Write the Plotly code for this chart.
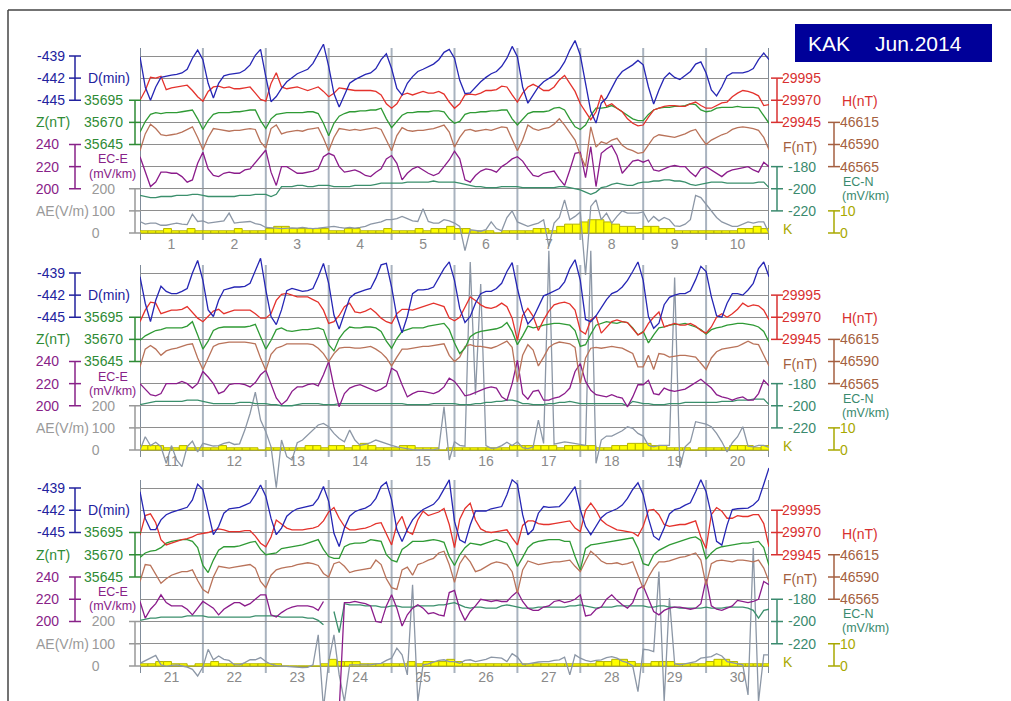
import numpy as np
import plotly.graph_objects as go

N = None

# ---- data: 2-hourly samples from 1 Jun 2014 00UT to 1 Jul 00UT (361 points) ----
D_min = [
 -439.1,-443.2,-445.0,-443.2,-441.9,-441.7,-441.6,-441.5,-441.3,-440.8,-439.3,-438.2,
 -439.5,-442.7,-444.7,-442.7,-441.7,-441.5,-441.4,-441.3,-440.9,-440.2,-438.9,-438.1,
 -441.8,-445.2,-444.5,-443.4,-442.5,-441.9,-441.4,-441.1,-440.8,-440.0,-438.6,-437.4,
 -440.4,-444.1,-445.9,-444.3,-442.7,-442.2,-441.8,-441.5,-441.3,-440.7,-439.5,-438.7,
 -440.7,-443.4,-444.3,-442.7,-441.8,-441.1,-440.8,-440.5,-440.1,-439.5,-438.5,-438.1,
 -439.3,-442.3,-444.1,-444.0,-443.2,-442.5,-441.9,-441.4,-441.1,-440.4,-439.3,-437.7,
 -439.1,-443.2,-445.4,-444.3,-443.2,-442.5,-442.0,-441.6,-440.9,-439.8,-438.2,-436.9,
 -438.9,-442.7,-446.5,-448.1,-445.4,-444.7,-443.4,-442.0,-441.1,-440.7,-440.2,-439.6,
 -440.2,-443.2,-445.5,-443.6,-442.0,-441.3,-441.9,-442.2,-441.7,-441.1,-440.1,-439.8,
 -441.3,-443.6,-444.4,-443.2,-441.7,-441.3,-441.3,-441.3,-441.1,-440.7,-439.5,-438.6,
 -439.5,-443.1,-445.6,-442.7,-440.8,-441.5,-441.8,-441.8,-441.5,-441.1,-439.0,-437.3,
 -440.0,-444.0,-444.9,-442.7,-441.3,-441.1,-440.9,-440.9,-440.8,-440.4,-438.8,-437.0,
 -441.3,-444.9,-446.0,-444.0,-441.4,-441.1,-441.3,-441.5,-441.4,-441.1,-439.5,-437.7,
 -440.4,-444.7,-446.6,-444.5,-442.4,-441.8,-441.5,-441.3,-441.1,-439.7,-437.9,-437.7,
 -440.9,-444.9,-447.1,-444.9,-441.8,-441.3,-441.3,-441.2,-440.9,-439.7,-438.4,-437.5,
 -440.0,-443.8,-445.7,-444.9,-443.1,-441.8,-441.5,-441.5,-441.1,-440.4,-438.8,-437.6,
 -441.1,-444.0,-445.9,-445.1,-443.6,-442.1,-441.8,-441.4,-441.1,-440.2,-438.4,-437.2,
 -440.0,-445.3,-445.6,-444.8,-443.6,-442.6,-441.8,-441.5,-440.9,-440.0,-438.8,-437.5,
 -440.0,-444.9,-446.5,-445.8,-443.3,-442.3,-442.0,-441.8,-441.8,-441.4,-439.9,-438.1,
 -438.8,-442.2,-444.8,-445.0,-443.1,-441.8,-441.8,-442.0,-441.3,-440.4,-438.4,-437.5,
 -439.5,-443.1,-444.6,-444.6,-443.3,-442.6,-442.3,-442.1,-441.8,-441.6,-440.6,-438.5,
 -439.2,-442.2,-445.3,-444.2,-442.4,-441.8,-441.7,-441.6,-441.3,-441.0,-439.9,-438.6,
 -440.1,-443.1,-445.3,-444.4,-442.8,-442.2,-441.8,-441.6,-441.5,-441.3,-440.4,-438.8,
 -440.8,-445.1,-446.9,-444.4,-442.8,-442.2,-441.9,-441.7,-441.3,-440.4,-438.8,-438.2,
 -440.6,-444.6,-446.2,-444.6,-443.3,-442.5,-441.9,-441.6,-441.2,-440.4,-439.2,-437.9,
 -443.5,-446.0,-446.4,-444.0,-442.1,-442.1,-442.1,-441.8,-441.6,-441.5,-439.9,-437.9,
 -438.5,-442.6,-445.3,-444.6,-442.4,-441.5,-441.6,-441.6,-441.5,-440.8,-439.8,-438.8,
 -441.9,-444.2,-445.3,-444.2,-443.0,-442.4,-442.1,-441.8,-441.3,-440.4,-439.2,-438.3,
 -439.9,-443.1,-445.5,-446.0,-444.4,-442.5,-441.9,-441.7,-441.3,-441.0,-439.5,-437.9,
 -439.5,-442.6,-446.2,-446.7,-444.0,-441.9,-441.8,-441.7,-441.7,-441.3,-440.6,-438.5,
 -436.3]

H_nT = [
 29970,29981,29996,29995,29997,29982,29984,29985,29986,29987,29981,29974,
 29969,29980,29985,29986,29984,29985,29983,29983,29984,29985,29978,29971,
 29969,29989,30001,29985,29983,29984,29985,29983,29981,29983,29985,29980,
 29974,29978,29984,29983,29982,29981,29981,29981,29981,29980,29976,29966,
 29961,29966,29976,29978,29976,29978,29980,29978,29978,29980,29977,29968,
 29961,29966,29976,29977,29976,29978,29981,29981,29982,29986,29985,29976,
 29968,29978,29985,29988,29985,29981,29981,29985,29993,29998,29989,29980,
 29966,29957,29948,29957,29976,29963,29966,29961,29957,29949,29944,29941,
 29942,29951,29959,29961,29963,29964,29964,29963,29963,29966,29968,29964,
 29961,29961,29964,29967,29968,29974,29978,29981,29980,29978,29975,29964,
 29965,29978,29987,29986,29974,29976,29978,29978,29979,29982,29976,29969,
 29965,29971,29977,29979,29974,29976,29978,29978,29978,29978,29974,29969,
 29969,29974,29989,29996,29997,29995,29993,29993,29993,29990,29987,29978,
 29963,29965,29972,29982,29986,29976,29975,29977,29980,29975,29969,29965,
 29963,29974,29979,29979,29978,29980,29982,29984,29986,29984,29982,29969,
 29966,29970,29982,29993,29989,29984,29981,29980,29982,29986,29982,29969,
 29944,29972,29980,29971,29955,29967,29977,29984,29986,29987,29985,29978,
 29955,29951,29967,29971,29952,29959,29965,29967,29965,29964,29957,29950,
 29953,29963,29970,29976,29959,29961,29963,29961,29961,29963,29960,29955,
 29952,29959,29970,29974,29970,29974,29979,29986,29982,29984,29983,29978,
 29967,29989,29991,29981,29962,29956,29958,29960,29962,29963,29965,29968,
 29969,29970,29972,29974,29973,29971,29971,29971,29972,29972,29966,29958,
 29954,29965,29984,29980,29975,29973,29973,29973,29974,29975,29977,29983,
 29993,29998,29986,29977,29973,29973,29974,29975,29977,29980,29981,29969,
 29956,29979,29988,29971,29968,29984,29994,29989,29991,29993,29997,29979,
 29953,29985,29997,30003,29984,29974,29971,29970,29971,29972,29973,29964,
 29956,29978,29983,29983,29980,29979,29979,29980,29981,29982,29983,29975,
 29971,29995,30003,29995,29984,29979,29976,29973,29972,29971,29970,29966,
 29977,29995,29996,29990,29979,29977,29978,29979,29979,29981,29983,29965,
 29952,29990,29998,29994,29986,29986,29989,29988,29988,29990,29990,29980,
 29954]

Z_nT = [
 35659,35671,35679,35681,35680,35681,35681,35681,35682,35683,35684,35674,
 35662,35672,35679,35681,35681,35681,35682,35682,35683,35684,35684,35672,
 35663,35674,35679,35680,35681,35681,35681,35681,35682,35682,35680,35669,
 35655,35669,35677,35680,35682,35682,35683,35683,35684,35684,35686,35674,
 35664,35671,35678,35681,35681,35682,35682,35682,35683,35683,35682,35674,
 35669,35671,35679,35681,35681,35682,35682,35683,35683,35684,35684,35674,
 35667,35674,35680,35682,35682,35682,35683,35686,35687,35684,35674,35665,
 35662,35667,35678,35686,35686,35687,35689,35686,35682,35678,35674,35672,
 35672,35679,35684,35686,35687,35687,35688,35688,35689,35691,35690,35684,
 35682,35683,35686,35687,35687,35687,35688,35687,35687,35687,35686,35678,
 35669,35674,35677,35680,35681,35683,35683,35683,35683,35685,35690,35675,
 35659,35668,35680,35683,35684,35684,35684,35684,35684,35685,35687,35673,
 35659,35669,35681,35683,35680,35679,35680,35681,35681,35682,35683,35681,
 35664,35657,35671,35679,35684,35683,35683,35684,35684,35683,35679,35668,
 35660,35671,35679,35681,35683,35683,35683,35685,35686,35687,35688,35681,
 35666,35654,35660,35673,35677,35679,35680,35681,35682,35684,35689,35679,
 35664,35674,35685,35683,35684,35686,35687,35688,35688,35687,35686,35680,
 35662,35664,35676,35686,35688,35690,35689,35688,35690,35689,35683,35675,
 35679,35666,35675,35683,35684,35686,35687,35687,35688,35686,35684,35681,
 35676,35681,35683,35684,35686,35687,35688,35688,35687,35686,35684,35679,
 35667,35672,35674,35675,35678,35683,35685,35686,35687,35687,35685,35678,
 35658,35650,35664,35675,35679,35679,35679,35680,35682,35684,35685,35676,
 35670,35671,35672,35677,35678,35679,35680,35681,35683,35685,35687,35676,
 35668,35666,35666,35679,35682,35683,35683,35684,35687,35686,35685,35670,
 35664,35662,35676,35680,35685,35685,35685,35686,35687,35686,35684,35668,
 35658,35670,35678,35683,35682,35681,35683,35685,35687,35685,35683,35672,
 35657,35667,35678,35683,35685,35686,35687,35687,35687,35685,35685,35668,
 35653,35677,35681,35682,35683,35684,35685,35686,35687,35688,35689,35677,
 35660,35658,35670,35675,35678,35681,35683,35685,35687,35689,35690,35686,
 35665,35672,35677,35679,35680,35681,35682,35683,35683,35684,35685,35678,
 35658]

F_nT = [
 46583,46602,46613,46608,46601,46600,46601,46602,46604,46607,46610,46598,
 46584,46598,46608,46607,46606,46605,46606,46606,46607,46608,46607,46593,
 46586,46608,46612,46602,46604,46605,46606,46605,46607,46608,46609,46597,
 46583,46598,46608,46607,46606,46607,46606,46607,46608,46609,46607,46595,
 46583,46600,46609,46606,46605,46606,46606,46607,46608,46610,46612,46604,
 46587,46598,46606,46607,46605,46606,46607,46606,46608,46610,46609,46595,
 46583,46595,46612,46608,46606,46608,46609,46613,46619,46612,46604,46595,
 46578,46565,46610,46587,46593,46591,46595,46597,46589,46585,46583,46580,
 46581,46589,46598,46601,46600,46599,46598,46600,46602,46605,46607,46598,
 46590,46595,46598,46601,46603,46607,46609,46610,46609,46608,46606,46598,
 46584,46604,46608,46604,46597,46602,46604,46605,46607,46609,46610,46594,
 46581,46595,46607,46610,46611,46612,46612,46612,46612,46611,46610,46594,
 46580,46598,46605,46607,46610,46610,46610,46610,46610,46609,46605,46599,
 46590,46599,46605,46606,46606,46605,46605,46606,46607,46604,46600,46594,
 46585,46595,46604,46604,46605,46606,46607,46607,46608,46609,46610,46597,
 46590,46595,46607,46609,46607,46607,46606,46605,46607,46610,46613,46606,
 46567,46597,46609,46603,46585,46595,46606,46610,46612,46611,46610,46606,
 46565,46594,46605,46606,46605,46606,46607,46606,46605,46602,46599,46584,
 46584,46597,46581,46599,46598,46595,46596,46597,46597,46596,46595,46588,
 46581,46594,46601,46604,46605,46606,46607,46610,46613,46610,46609,46597,
 46585,46604,46603,46593,46583,46588,46592,46594,46596,46596,46598,46586,
 46576,46572,46590,46602,46601,46600,46601,46602,46603,46604,46600,46585,
 46578,46592,46598,46600,46601,46602,46604,46605,46606,46605,46603,46594,
 46590,46605,46607,46602,46595,46597,46598,46599,46600,46609,46604,46588,
 46578,46576,46598,46601,46592,46604,46606,46609,46611,46617,46619,46604,
 46584,46605,46614,46607,46596,46598,46602,46605,46607,46606,46604,46596,
 46572,46598,46608,46606,46604,46605,46606,46607,46607,46608,46609,46602,
 46596,46608,46619,46614,46608,46605,46605,46606,46604,46605,46607,46592,
 46577,46590,46600,46607,46607,46608,46610,46612,46613,46615,46617,46609,
 46581,46605,46608,46609,46608,46607,46609,46609,46608,46607,46609,46600,
 46585]

ECE_mVkm = [
 229,215,202,206,215,215,214,214,211,206,208,223,
 233,218,212,211,214,215,214,214,217,218,224,230,
 235,215,203,220,220,217,214,214,215,216,218,229,
 232,230,220,215,216,217,215,212,211,215,218,227,
 230,223,208,214,218,220,217,214,212,214,220,226,
 234,227,208,206,212,216,218,217,215,220,223,227,
 229,225,218,212,211,214,215,216,209,203,217,232,
 233,210,238,202,232,236,239,230,214,220,225,226,
 224,226,217,216,218,220,221,220,220,215,211,218,
 220,217,214,211,215,217,218,219,220,217,215,224,
 220,215,210,209,211,220,220,220,222,220,216,220,
 231,226,220,211,213,219,220,220,219,217,221,228,
 232,219,207,201,205,213,217,217,219,220,218,228,
 240,217,199,211,216,218,219,217,215,213,215,218,
 234,231,219,208,211,213,213,212,211,213,217,225,
 222,216,209,210,212,214,216,217,216,208,205,220,
 241,211,206,213,214,205,205,207,208,211,216,231,
 238,222,214,210,209,208,210,208,207,199,208,219,
 219,223,211,210,216,214,213,214,215,218,221,224,
 220,216,210,208,207,205,207,208,205,205,211,223,
 218,203,211,216,224,217,214,214,214,211,206,212,
 218,215,212,206,211,214,217,217,214,216,220,224,
 224,206,204,208,211,213,214,214,214,213,210,218,
 N,N,120,217,217,218,217,216,214,200,199,214,
 224,212,196,206,212,215,212,207,208,206,205,226,
 228,211,201,209,214,220,219,218,219,218,218,223,
 227,218,212,210,210,213,214,218,219,217,218,220,
 224,205,206,211,213,220,224,219,215,212,217,229,
 232,220,209,206,210,212,213,213,212,211,212,216,
 238,214,211,210,212,214,219,218,217,218,220,236,
 233]

ECN_mVkm = [
 -206,-207,-208,-208,-207,-207,-207,-206,-206,-206,-205,-205,
 -206,-207,-207,-207,-207,-207,-207,-206,-206,-206,-205,-205,
 -205,-207,-205,-198,-198,-198,-197,-197,-198,-198,-197,-197,
 -197,-198,-198,-198,-198,-197,-197,-197,-197,-196,-195,-195,
 -195,-195,-195,-194,-194,-194,-194,-194,-193,-194,-194,-194,
 -194,-195,-196,-197,-198,-198,-199,-199,-199,-198,-198,-198,
 -198,-199,-199,-199,-199,-199,-199,-199,-198,-198,-199,-200,
 -201,-203,-205,-203,-199,-198,-196,-195,-196,-197,-197,-195,
 -194,-194,-193,-193,-192,-192,-193,-193,-194,-196,-197,-196,
 -195,-194,-194,-194,-195,-195,-195,-195,-195,-195,-194,-194,
 -199,-198,-197,-196,-196,-196,-196,-196,-196,-195,-195,-195,
 -196,-197,-198,-198,-198,-198,-198,-197,-197,-197,-198,-198,
 -198,-199,-199,-200,-200,-200,-199,-198,-198,-198,-198,-199,
 -199,-199,-198,-198,-198,-198,-198,-198,-198,-198,-198,-198,
 -198,-198,-198,-199,-199,-199,-199,-199,-198,-198,-198,-198,
 -198,-199,-199,-199,-198,-198,-197,-197,-196,-196,-195,-195,
 -196,-198,-198,-199,-199,-199,-198,-198,-197,-197,-196,-197,
 -198,-198,-198,-198,-198,-198,-198,-198,-198,-200,-196,-197,
 -198,-198,-199,-199,-199,-198,-198,-198,-197,-197,-197,-197,
 -197,-197,-197,-196,-196,-196,-195,-195,-195,-194,-194,-194,
 -199,-198,-197,-197,-196,-196,-196,-196,-196,-195,-195,-195,
 -195,-196,-196,-196,-196,-196,-196,-196,-196,-196,-195,-195,
 -195,-195,-195,-196,-196,-196,-196,-196,-197,-197,-199,-203,
 N,-191,-210,-184,-185,-185,-185,-186,-186,-186,-187,-187,
 -186,-186,-187,-187,-187,-186,-186,-186,-186,-185,-185,-184,
 -183,-185,-187,-188,-187,-187,-188,-188,-188,-186,-185,-186,
 -187,-188,-188,-188,-187,-187,-187,-187,-187,-187,-186,-186,
 -185,-186,-187,-188,-187,-187,-187,-186,-186,-186,-186,-186,
 -186,-187,-187,-186,-186,-187,-187,-188,-188,-188,-188,-188,
 -187,-188,-188,-188,-187,-187,-187,-187,-188,-190,-197,-190,
 -189]

AE_Vm = [
 52,40,45,45,35,35,40,45,40,38,85,52,
 55,45,48,52,55,90,45,48,50,52,42,38,
 25,22,22,20,22,23,22,25,22,20,22,25,
 28,30,25,22,25,22,25,30,40,45,50,60,
 60,65,75,65,55,52,110,52,45,45,60,55,
 45,30,-80,15,10,8,15,50,20,10,70,100,
 50,40,30,38,45,60,-60,45,70,150,60,75,
 95,-190,120,150,60,90,45,75,100,90,90,90,
 95,50,75,55,70,60,32,30,40,60,170,160,
 130,100,70,50,40,30,30,40,50,45,50,50,
 0,60,20,35,15,-60,20,-45,-75,15,40,-9,
 30,25,18,20,30,35,25,28,90,165,262,135,
 83,14,-170,45,-30,-45,33,45,68,90,113,120,
 105,75,52,37,90,45,21,26,33,45,37,26,
 21,14,9,6,2,0,0,0,2,6,195,-45,
 37,21,17,850,250,750,20,8,10,20,35,20,
 37,11,6,14,135,30,900,26,30,37,33,30,
 26,21,900,-60,45,63,63,75,87,105,98,75,
 63,21,14,21,21,21,780,-80,14,37,128,123,
 117,105,75,37,-9,33,60,105,17,14,21,21,
 12,25,35,48,5,-2,3,5,0,-5,-15,-45,
 -5,75,28,45,30,25,6,5,15,28,28,38,
 20,8,2,0,-2,-6,-7,-7,-6,5,140,-190,
 20,140,-40,-160,5,5,5,5,5,10,12,25,
 35,80,50,-40,365,-160,5,10,18,25,28,20,
 20,12,25,28,20,25,30,40,38,35,20,55,
 40,8,10,15,18,20,20,25,28,40,-40,50,
 35,25,20,25,28,38,42,35,22,15,0,-115,
 75,72,65,425,-160,305,10,5,10,15,20,35,
 38,42,55,45,20,15,10,5,-130,530,-160,50,
 50]

# 3-hourly K index (8 per day)
K_idx = [
 1,1,1,2,1,1,2,1, 1,1,1,1,2,1,1,1, 2,3,3,2,2,2,2,2, 1,1,2,2,1,1,1,2, 1,1,1,2,1,2,2,3,
 2,2,1,1,1,0,1,1, 1,1,2,2,1,3,4,4, 5,6,6,5,4,3,3,2, 3,3,2,2,1,1,1,1, 1,1,1,1,2,2,3,2,
 2,2,2,1,1,2,1,1, 1,1,2,1,1,1,1,0, 1,1,1,1,1,2,2,1, 2,2,1,2,3,2,1,1, 1,2,2,1,1,1,0,1,
 1,1,1,1,1,1,1,2, 2,2,2,2,2,1,2,2, 2,2,1,1,2,2,3,3, 3,2,2,1,1,1,0,1, 1,1,1,2,2,2,1,2,
 1,1,2,2,1,1,0,1, 1,2,1,1,1,1,1,1, 1,1,0,0,0,0,0,1, 3,2,2,2,1,1,1,1, 1,1,2,1,2,2,2,3,
 2,1,1,1,1,1,1,1, 1,1,1,1,1,1,1,1, 1,1,2,2,3,3,2,1, 1,2,2,2,1,1,1,1, 2,3,3,2,1,1,1,1]

DAY_LABELS = [str(d) for d in range(1, 31)]

t_days = np.arange(len(D_min)) / 12.0
t_k = (np.arange(len(K_idx)) + 0.5) / 8.0

# ---- layout geometry ----
W, HG = 1011, 701
X0, X1 = 140, 769
TOPS = [56, 273, 488]
BOTS = [233, 450, 666]
FONT = "Liberation Sans, Arial, sans-serif"

def yp(px):
    return 1 - px / HG

def xp(px):
    return px / W

# key, data, times, line colour, text colour, (va, grid a, vb, grid b), tick values,
# side, axis pixel x, label standoff
SPECS = [
    ("K",   K_idx,    t_k,    "#b4b400", "#a8a800", (10, 7, 0, 8),          [10, 0],               "right", 834, 5),
    ("AE",  AE_Vm,    t_days, "#8c97a6", "#999999", (200, 6, 0, 8),         [200, 100, 0],         "left",  135, 20),
    ("ECN", ECN_mVkm, t_days, "#3b8f6c", "#3a8a6e", (-180, 5, -220, 7),     [-180, -200, -220],    "right", 777, 10),
    ("ECE", ECE_mVkm, t_days, "#8b1c8b", "#882288", (240, 4, 200, 6),       [240, 220, 200],       "left",  75, 16),
    ("F",   F_nT,     t_days, "#b9735a", "#a45f40", (46615, 3, 46565, 5),   [46615, 46590, 46565], "right", 834, 5),
    ("Z",   Z_nT,     t_days, "#2f9a35", "#2e8b35", (35695, 2, 35645, 4),   [35695, 35670, 35645], "left",  135, 12),
    ("H",   H_nT,     t_days, "#e4322c", "#d83030", (29995, 1, 29945, 3),   [29995, 29970, 29945], "right", 777, 4),
    ("D",   D_min,    t_days, "#2626b4", "#22229e", (-439, 0, -445, 2),     [-439, -442, -445],    "left",  75, 10),
]

fig = go.Figure()
layout = dict(width=W, height=HG, margin=dict(l=0, r=0, t=0, b=0),
              paper_bgcolor="white", plot_bgcolor="rgba(0,0,0,0)",
              showlegend=False, font=dict(family=FONT, size=14), barmode="overlay")
shapes = []
annotations = []


def ann(text, x, y, color, size=14):
    annotations.append(dict(text=text, x=xp(x), y=yp(y), xref="paper", yref="paper",
                            showarrow=False, xanchor="center", yanchor="middle",
                            font=dict(size=size, color=color, family=FONT)))


for p in range(3):
    xname = "x" if p == 0 else f"x{p + 1}"
    xkey = "xaxis" if p == 0 else f"xaxis{p + 1}"
    lo, hi = 10 * p, 10 * p + 10
    top, bot = TOPS[p], BOTS[p]
    gpx = lambda k: top + k * (bot - top) / 8.0
    layout[xkey] = dict(domain=[xp(X0), xp(X1)], range=[lo, hi], anchor="free",
                        position=yp(bot), showgrid=False, zeroline=False, showline=False,
                        ticks="", tickmode="array",
                        tickvals=[d + 0.5 for d in range(lo, hi)],
                        ticktext=DAY_LABELS[lo:hi], ticklabelstandoff=1,
                        tickfont=dict(size=14, color="#8a8a8a", family=FONT))
    main_idx = p * 8 + 1
    for j, (key, data, tt, col, tcol, ref, tv, side, axpx, stand) in enumerate(SPECS):
        n = p * 8 + j + 1
        yname = "y" if n == 1 else f"y{n}"
        ykey = "yaxis" if n == 1 else f"yaxis{n}"
        va, ka, vb, kb = ref
        m = (vb - va) / (gpx(kb) - gpx(ka))
        rng = [va + (HG - gpx(ka)) * m, va + (0 - gpx(ka)) * m]
        ttext = [str(v) for v in tv]
        if key == "AE":
            ttext = ["200", "100", "0\u2007\u2007"]
        ax = dict(range=rng, anchor="free", position=xp(axpx), side=side,
                  tickmode="array", tickvals=tv, ticktext=ttext, ticks="",
                  ticklabelstandoff=stand,
                  tickfont=dict(size=14, color=tcol, family=FONT),
                  showgrid=True, gridcolor="#8e8e8e", gridwidth=1,
                  zeroline=False, showline=False)
        if n == main_idx:
            ax["domain"] = [0, 1]
        else:
            ax["overlaying"] = "y" if main_idx == 1 else f"y{main_idx}"
        layout[ykey] = ax

        if key == "K":
            sel = (tt >= lo) & (tt <= hi)
            fig.add_trace(go.Bar(x=tt[sel], y=np.array(data)[sel], width=0.125,
                                 xaxis=xname, yaxis=yname,
                                 marker=dict(color="#ffff00", line=dict(color=col, width=1))))
        else:
            i0, i1 = lo * 12, hi * 12 + 1
            fig.add_trace(go.Scatter(x=tt[i0:i1], y=data[i0:i1], mode="lines",
                                     xaxis=xname, yaxis=yname, connectgaps=False,
                                     line=dict(color=col, width=1.3)))
        # scale bracket (vertical bar with cross ticks)
        shapes.append(dict(type="line", xref="paper", yref=yname,
                           x0=xp(axpx), x1=xp(axpx), y0=tv[0], y1=tv[-1],
                           line=dict(color=tcol, width=1.5)))
        for v in tv:
            shapes.append(dict(type="line", xref="paper", yref=yname,
                               x0=xp(axpx - 6), x1=xp(axpx + 6), y0=v, y1=v,
                               line=dict(color=tcol, width=1.5)))

    # day separators and frame edges of the panel
    for d in range(lo, hi + 1):
        edge = d in (lo, hi)
        shapes.append(dict(type="line", xref=xname, yref="paper", x0=d, x1=d,
                           y0=yp(top - 8), y1=yp(bot + 7), layer="below",
                           line=dict(color="#7f8b99" if edge else "#a9b3bf", width=2)))

    # axis titles
    ann("D(min)", 109, gpx(1), "#22229e")
    ann("Z(nT)", 53, gpx(3), "#2e8b35")
    ann("EC-E", 113, top + 103.5, "#882288", 12.5)
    ann("(mV/km)", 112, top + 117.5, "#882288", 12.5)
    ann("AE(V/m)", 62, gpx(7), "#999999")
    ann("H(nT)", 860, gpx(2.05), "#d83030")
    ann("F(nT)", 800, gpx(4.1), "#a45f40")
    ann("EC-N", 858, top + 126, "#3a8a6e", 12.5)
    ann("(mV/km)", 865, top + 139.5, "#3a8a6e", 12.5)
    ann("K", 788, gpx(7.8), "#a8a800")

# title box
shapes.append(dict(type="rect", xref="paper", yref="paper", x0=xp(795), x1=xp(992),
                   y0=yp(62), y1=yp(24), fillcolor="#000099", line=dict(width=0)))
ann("KAK", 829, 43, "white", 21)
ann("Jun.2014", 918, 43, "white", 21)
# outer frame
shapes.append(dict(type="line", xref="paper", yref="paper", x0=xp(8), x1=xp(8),
                   y0=yp(10), y1=0, line=dict(color="#444444", width=1.5)))
shapes.append(dict(type="line", xref="paper", yref="paper", x0=xp(8), x1=1,
                   y0=yp(10), y1=yp(10), line=dict(color="#444444", width=1.5)))

layout["shapes"] = shapes
layout["annotations"] = annotations
fig.update_layout(**layout)
fig.write_html("out.html")
